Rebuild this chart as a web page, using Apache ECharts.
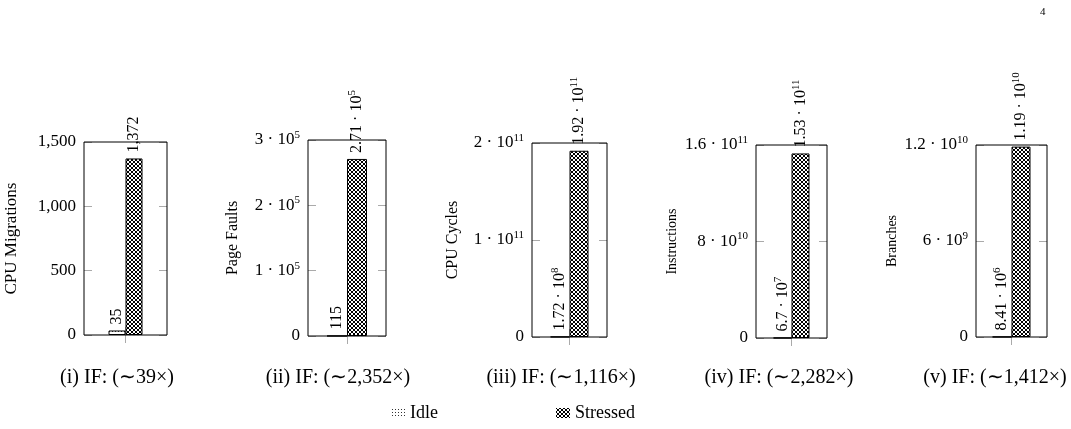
<!DOCTYPE html>
<html>
<head>
<meta charset="utf-8">
<script src="https://cdn.jsdelivr.net/npm/echarts@6/dist/echarts.min.js"></script>
<style>
html,body{margin:0;padding:0;background:#fff;}
#chart{width:1071px;height:429px;}
</style>
</head>
<body>
<div id="chart"></div>
<script>
// ---- data ----
const categories = ['CPU Migrations', 'Page Faults', 'CPU Cycles', 'Instructions', 'Branches'];
const seriesNames = ['Idle', 'Stressed'];
const idleValues = [35, 115, 1.72e8, 6.7e7, 8.41e6];
const stressedValues = [1372, 2.71e5, 1.92e11, 1.53e11, 1.19e10];
const yMax = [1500, 3e5, 2e11, 1.6e11, 1.2e10];
const yInterval = [500, 1e5, 1e11, 8e10, 6e9];
const subtitles = ['(i) IF: (\u223C39\u00D7)', '(ii) IF: (\u223C2,352\u00D7)', '(iii) IF: (\u223C1,116\u00D7)', '(iv) IF: (\u223C2,282\u00D7)', '(v) IF: (\u223C1,412\u00D7)'];
const pageNumber = '4';

// ---- layout ----
const grids = [
  {left: 84, top: 142, width: 83, height: 193},
  {left: 308, top: 140, width: 78, height: 196},
  {left: 532, top: 143, width: 75, height: 194},
  {left: 756, top: 145, width: 71, height: 193},
  {left: 976, top: 145, width: 71, height: 192}
];
const captionCenters = [117, 338, 561, 779, 995];
const barWidths = [17, 20, 19, 18, 19];
const nameSizes = [17, 16, 16, 14, 14];
const nameGaps = [64, 67, 71, 77, 77];
const FONT = '"Liberation Serif", "Times New Roman", serif';

function fmt(v) {
  if (v === 0) return '0';
  if (Math.abs(v) < 1e4) return v.toLocaleString('en-US');
  let e = Math.floor(Math.log10(v) + 1e-9);
  let m = parseFloat((v / Math.pow(10, e)).toFixed(2));
  if (m >= 10) { m = m / 10; e += 1; }
  return m + ' \u00B7 10{sup|' + e + '}';
}
const richSup = {sup: {fontSize: 11, verticalAlign: 'top', lineHeight: 11, fontFamily: FONT, color: '#000'}};

// patterns
function makeCross() {
  const c = document.createElement('canvas');
  c.width = 4; c.height = 4;
  const g = c.getContext('2d');
  g.fillStyle = '#fff'; g.fillRect(0, 0, 4, 4);
  g.strokeStyle = '#000'; g.lineWidth = 1;
  g.beginPath();
  g.moveTo(0, 0); g.lineTo(4, 4);
  g.moveTo(4, 0); g.lineTo(0, 4);
  g.stroke();
  return c;
}
function makeDots() {
  const c = document.createElement('canvas');
  c.width = 3; c.height = 3;
  const g = c.getContext('2d');
  g.fillStyle = '#fff'; g.fillRect(0, 0, 3, 3);
  g.fillStyle = '#333'; g.fillRect(1, 1, 1, 1);
  return c;
}
const crossPat = {image: makeCross(), repeat: 'repeat'};
const dotPat = {image: makeDots(), repeat: 'repeat'};

const chart = echarts.init(document.getElementById('chart'), null, {renderer: 'canvas'});

const option = {
  backgroundColor: '#fff',
  animation: false,
  title: [{text: pageNumber, left: 1040, top: 7, padding: 0, textStyle: {fontFamily: FONT, fontSize: 11, fontWeight: 'normal', color: '#000'}}],
  legend: {
    data: seriesNames,
    left: 386, top: 399,
    itemWidth: 14, itemHeight: 10, itemGap: 118,
    icon: 'rect',
    itemStyle: {borderWidth: 0},
    textStyle: {fontFamily: FONT, fontSize: 18, color: '#000'}
  },
  grid: [], xAxis: [], yAxis: [], series: []
};

const gray = '#aaa';
for (let i = 0; i < 5; i++) {
  const g = grids[i];
  option.grid.push(Object.assign({show: true, borderColor: '#000', borderWidth: 1, backgroundColor: 'transparent', z: 3}, g));
  const xBase = {
    type: 'category', gridIndex: i, data: [categories[i]],
    axisLine: {show: false},
    axisTick: {show: true, alignWithLabel: true, length: 8, lineStyle: {color: gray}},
    axisLabel: {show: false}, splitLine: {show: false}
  };
  option.xAxis.push(Object.assign({position: 'bottom'}, xBase));
  option.xAxis.push(Object.assign({position: 'top'}, xBase));
  const yBase = {
    type: 'value', gridIndex: i, min: 0, max: yMax[i], interval: yInterval[i],
    axisLine: {show: false}, splitLine: {show: false},
    axisTick: {show: true, inside: true, length: 8, lineStyle: {color: gray}}
  };
  option.yAxis.push(Object.assign({
    position: 'left',
    name: categories[i], nameLocation: 'middle', nameGap: nameGaps[i],
    nameTextStyle: {fontFamily: FONT, fontSize: nameSizes[i], color: '#000'},
    axisLabel: {show: true, margin: 8, fontFamily: FONT, fontSize: 17, color: '#000', lineHeight: 21,
      formatter: fmt, rich: richSup}
  }, yBase));
  option.yAxis.push(Object.assign({position: 'right', axisLabel: {show: false}}, yBase));

  const lbl = {
    show: true, position: 'top', rotate: 90, align: 'left', verticalAlign: 'middle', distance: 6,
    fontFamily: FONT, fontSize: 16, color: '#000', lineHeight: 20,
    formatter: p => fmt(p.value), rich: richSup
  };
  option.series.push({
    type: 'bar', name: seriesNames[0], xAxisIndex: 2 * i, yAxisIndex: 2 * i, z: 4,
    data: [idleValues[i]], barWidth: barWidths[i], barGap: '0%',
    itemStyle: {color: dotPat, borderColor: '#000', borderWidth: 1},
    label: lbl
  });
  option.series.push({
    type: 'bar', name: seriesNames[1], xAxisIndex: 2 * i, yAxisIndex: 2 * i, z: 4,
    data: [stressedValues[i]], barWidth: barWidths[i], barGap: '0%',
    itemStyle: {color: crossPat, borderColor: '#000', borderWidth: 1},
    label: lbl
  });
  option.title.push({
    text: subtitles[i], left: captionCenters[i], top: 368, textAlign: 'center', padding: 0,
    textStyle: {fontFamily: FONT, fontSize: 20, fontWeight: 'normal', color: '#000'}
  });
}
chart.setOption(option);
</script>
</body>
</html>
